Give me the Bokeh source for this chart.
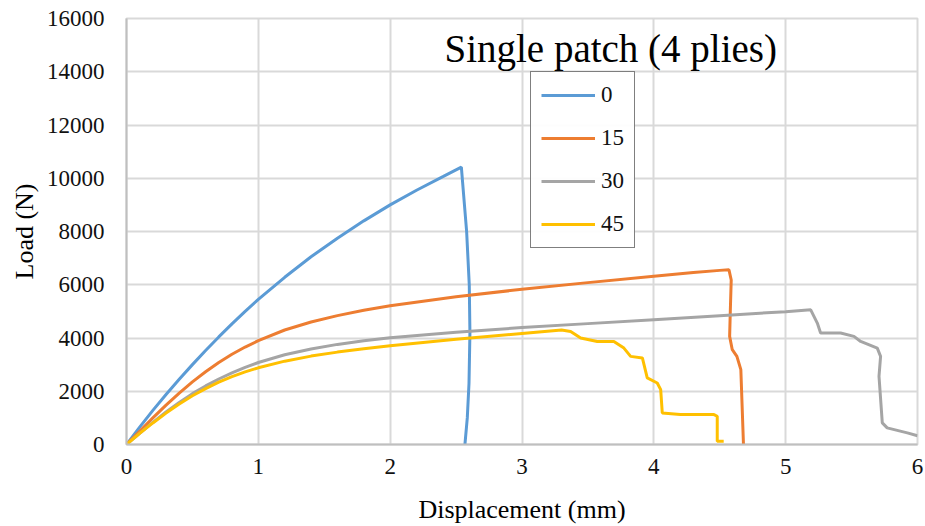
from bokeh.plotting import figure
from bokeh.models import Legend, LegendItem, Label, FixedTicker, Range1d
from bokeh.embed import file_html
from bokeh.resources import INLINE

# ---- data ----
x0 = [0, 0.1, 0.2, 0.3, 0.4, 0.5, 0.6, 0.7, 0.8, 0.9, 1.0, 1.2, 1.4, 1.6, 1.8, 2.0, 2.2, 2.4, 2.54,
      2.58, 2.60, 2.605, 2.598, 2.585, 2.567]
y0 = [0, 650, 1280, 1880, 2450, 3000, 3530, 4040, 4530, 5000, 5450, 6280, 7050, 7750, 8400, 9000, 9550, 10060, 10420,
      8000, 6000, 4200, 2300, 1000, 0]

x15 = [0, 0.1, 0.2, 0.3, 0.4, 0.5, 0.6, 0.7, 0.8, 0.9, 1.0, 1.2, 1.4, 1.6, 1.8, 2.0, 2.5, 3.0, 3.5, 4.0, 4.3, 4.5, 4.57,
       4.587, 4.58, 4.575, 4.595, 4.63, 4.66, 4.68]
y15 = [0, 500, 1000, 1480, 1930, 2350, 2730, 3080, 3390, 3660, 3900, 4300, 4600, 4840, 5040, 5210, 5550, 5830, 6080, 6320, 6460, 6540, 6560,
       6180, 5000, 4060, 3560, 3310, 2810, 0]

x30 = [0, 0.1, 0.2, 0.3, 0.4, 0.5, 0.6, 0.7, 0.8, 0.9, 1.0, 1.2, 1.4, 1.6, 1.8, 2.0, 2.5, 3.0, 3.5, 4.0, 4.5, 5.0, 5.19,
       5.24, 5.265, 5.417, 5.518, 5.569, 5.695, 5.72, 5.708, 5.733, 5.77, 5.923, 6.0]
y30 = [0, 420, 830, 1220, 1580, 1910, 2200, 2460, 2690, 2900, 3080, 3370, 3590, 3760, 3900, 4010, 4220, 4390, 4540, 4690, 4840, 4990, 5058,
       4560, 4185, 4185, 4060, 3870, 3620, 3310, 2560, 813, 625, 437, 330]

x45 = [0, 0.1, 0.2, 0.3, 0.4, 0.5, 0.6, 0.7, 0.8, 0.9, 1.0, 1.2, 1.4, 1.6, 1.8, 2.0, 2.5, 3.0, 3.3,
       3.369, 3.445, 3.571, 3.697, 3.773, 3.824, 3.913, 3.95, 4.026, 4.052, 4.064, 4.2, 4.456, 4.481, 4.481, 4.53]
y45 = [0, 420, 810, 1180, 1520, 1830, 2100, 2340, 2550, 2730, 2880, 3130, 3320, 3470, 3600, 3710, 3950, 4170, 4300,
       4247, 4000, 3870, 3870, 3620, 3310, 3250, 2500, 2310, 2060, 1186, 1130, 1124, 1060, 124, 124]

series_names = ["0", "15", "30", "45"]
series_colors = ["#5B9BD5", "#ED7D31", "#A5A5A5", "#FFC000"]
x_ticks = [0, 1, 2, 3, 4, 5, 6]
y_ticks = [0, 2000, 4000, 6000, 8000, 10000, 12000, 14000, 16000]
title_text = "Single patch  (4 plies)"
x_label = "Displacement (mm)"
y_label = "Load (N)"

FONT = "Liberation Serif"

p = figure(width=925, height=526, output_backend="svg", toolbar_location=None,
           x_range=Range1d(0, 6), y_range=Range1d(0, 16000),
           min_border_left=126, min_border_right=8, min_border_top=18, min_border_bottom=81)
p.outline_line_color = "#D9D9D9"
p.outline_line_width = 2

p.xaxis.ticker = FixedTicker(ticks=x_ticks)
p.yaxis.ticker = FixedTicker(ticks=y_ticks)
p.xaxis.major_label_text_font = FONT
p.yaxis.major_label_text_font = FONT
p.xaxis.major_label_text_font_size = "23px"
p.yaxis.major_label_text_font_size = "23px"
p.xaxis.major_label_text_color = "#111111"
p.yaxis.major_label_text_color = "#111111"
p.xaxis.axis_label = x_label
p.yaxis.axis_label = y_label
p.xaxis.axis_label_text_font = FONT
p.yaxis.axis_label_text_font = FONT
p.xaxis.axis_label_text_font_size = "26px"
p.yaxis.axis_label_text_font_size = "26px"
p.xaxis.axis_label_text_font_style = "normal"
p.yaxis.axis_label_text_font_style = "normal"
p.xaxis.axis_label_text_color = "#000000"
p.yaxis.axis_label_text_color = "#000000"
p.xaxis.major_tick_in = 0
p.xaxis.major_tick_out = 0
p.yaxis.major_tick_in = 0
p.yaxis.major_tick_out = 0
p.xaxis.minor_tick_in = 0
p.xaxis.minor_tick_out = 0
p.yaxis.minor_tick_in = 0
p.yaxis.minor_tick_out = 0
p.xaxis.axis_line_color = "#BFBFBF"
p.yaxis.axis_line_color = "#BFBFBF"
p.xaxis.axis_line_width = 2
p.yaxis.axis_line_width = 2
p.xaxis.major_label_standoff = 14
p.xaxis.axis_label_standoff = 18
p.yaxis.major_label_standoff = 22
p.yaxis.axis_label_standoff = 5

p.xgrid.ticker = FixedTicker(ticks=x_ticks)
p.ygrid.ticker = FixedTicker(ticks=y_ticks)
p.xgrid.grid_line_color = "#D9D9D9"
p.ygrid.grid_line_color = "#D9D9D9"
p.xgrid.grid_line_width = 2
p.ygrid.grid_line_width = 2

items = []
for xs, ys, name, col in zip((x0, x15, x30, x45), (y0, y15, y30, y45), series_names, series_colors):
    r = p.line(xs, ys, line_color=col, line_width=3)
    items.append(LegendItem(label=name, renderers=[r]))

legend = Legend(items=items, location=(404, 196),
                label_text_font=FONT, label_text_font_size="23px")
legend.label_text_color = "#111111"
legend.border_line_color = "#000000"
legend.border_line_width = 1.2
legend.glyph_width = 54
legend.glyph_height = 20
legend.label_height = 20
legend.label_standoff = 6
legend.spacing = 17
legend.padding = 10
legend.margin = 0
p.add_layout(legend, "center")

p.add_layout(Label(x=3.71, y=14880, text=title_text, text_align="center", text_baseline="alphabetic",
                   text_font=FONT, text_font_size="39px", text_color="#000000"))

html = file_html(p, INLINE)
# serif fallback for any SVG text whose own font-family is not applied
html = html.replace("</head>", "<style>html, body { font-family: 'Liberation Serif', serif; }</style></head>", 1)
open("out.html", "w").write(html)
